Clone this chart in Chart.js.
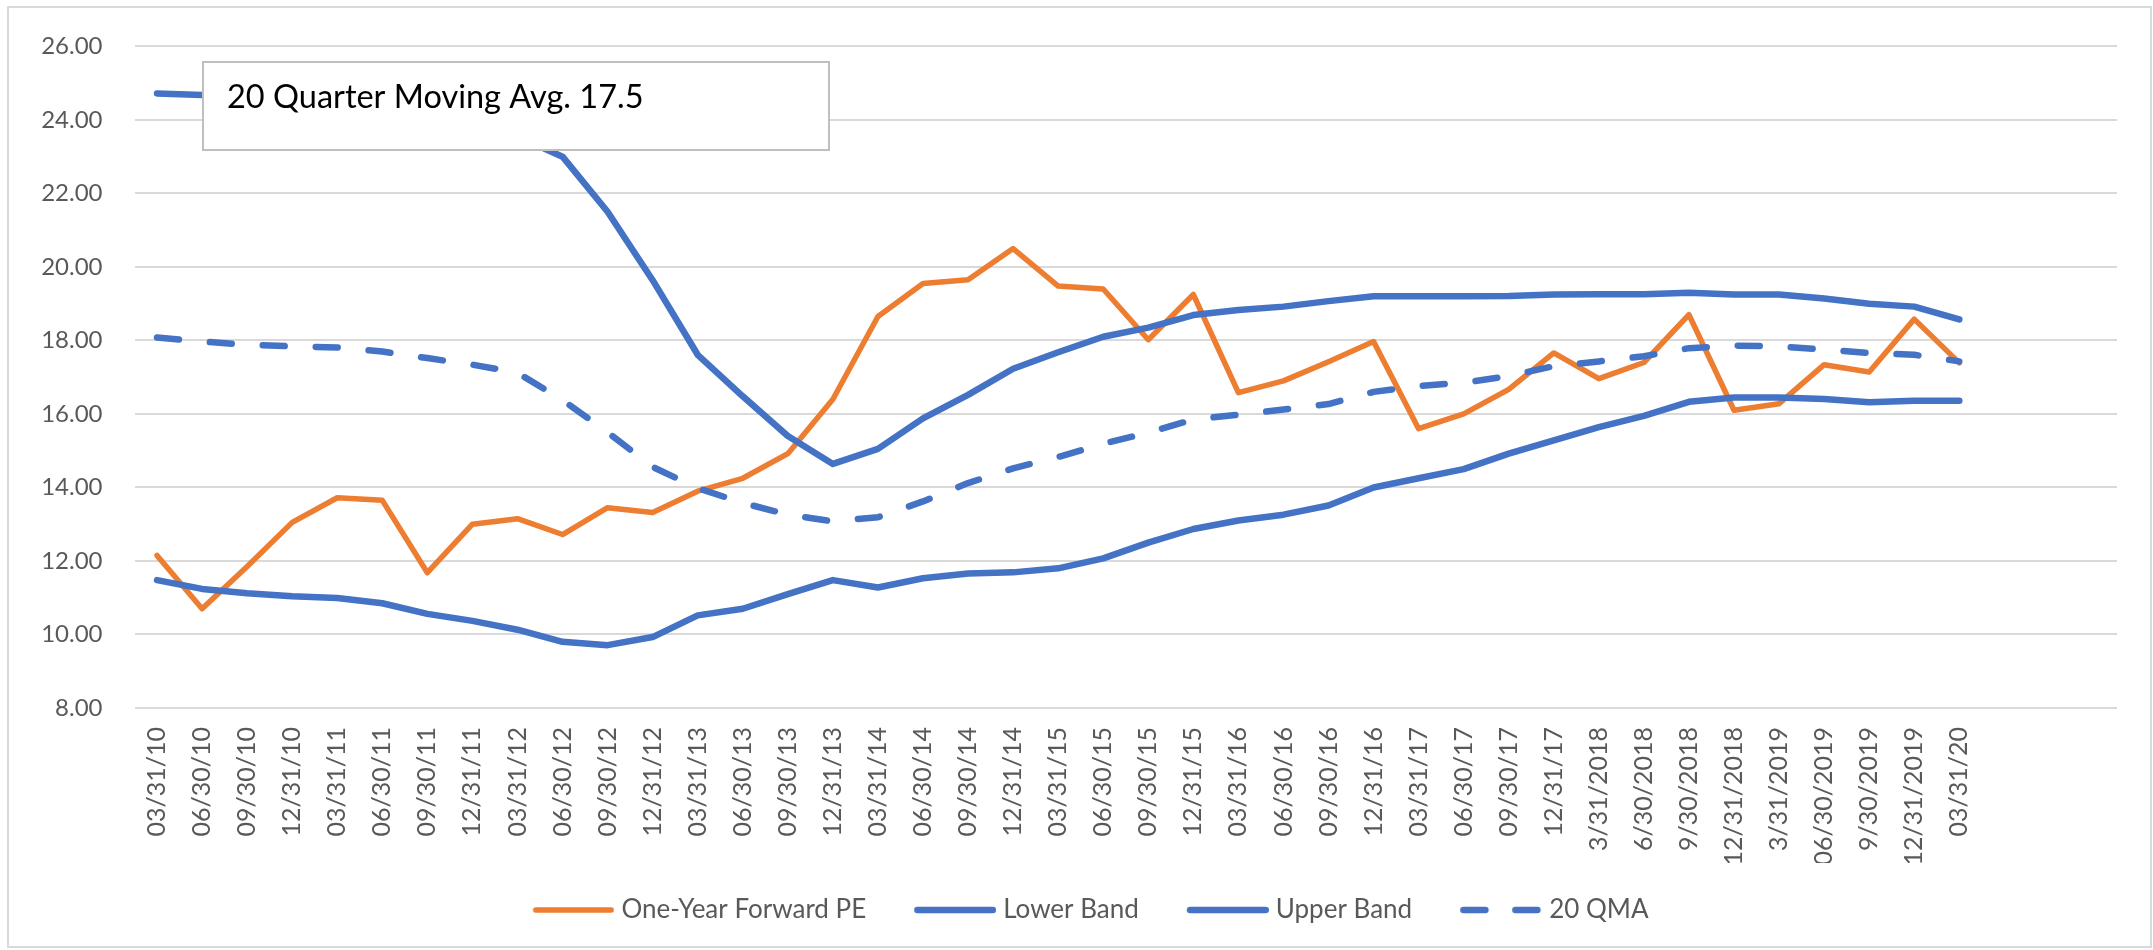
<!DOCTYPE html>
<html>
<head>
<meta charset="utf-8">
<script src="https://cdn.jsdelivr.net/npm/chart.js@4.4.1/dist/chart.umd.min.js"></script>
<style>
  html, body { margin: 0; padding: 0; background: #fff; }
  #wrap { width: 2153px; height: 950px; }
</style>
</head>
<body>
<div id="wrap"><canvas id="peChart" width="2153" height="950"></canvas></div>
<script>
// quarter-end dates (Excel range had 3 empty rows at the end)
const quarters = ['03/31/10','06/30/10','09/30/10','12/31/10','03/31/11','06/30/11','09/30/11','12/31/11',
  '03/31/12','06/30/12','09/30/12','12/31/12','03/31/13','06/30/13','09/30/13','12/31/13',
  '03/31/14','06/30/14','09/30/14','12/31/14','03/31/15','06/30/15','09/30/15','12/31/15',
  '03/31/16','06/30/16','09/30/16','12/31/16','03/31/17','06/30/17','09/30/17','12/31/17',
  '3/31/2018','6/30/2018','9/30/2018','12/31/2018','3/31/2019','06/30/2019','9/30/2019','12/31/2019',
  '03/31/20','','',''];

const forwardPE = [12.15, 10.70, 11.85, 13.05, 13.72, 13.65, 11.68, 13.00, 13.15, 12.72, 13.45, 13.32,
  13.90, 14.25, 14.92, 16.40, 18.65, 19.55, 19.65, 20.50, 19.48, 19.40, 18.02, 19.25,
  16.58, 16.90, 17.42, 17.97, 15.60, 16.00, 16.67, 17.66, 16.96, 17.40, 18.70, 16.10,
  16.28, 17.34, 17.14, 18.58, 17.39];

const lowerBand = [11.48, 11.24, 11.12, 11.04, 10.99, 10.85, 10.56, 10.37, 10.13, 9.80, 9.71, 9.93,
  10.52, 10.70, 11.10, 11.48, 11.28, 11.53, 11.66, 11.69, 11.80, 12.07, 12.50, 12.87,
  13.10, 13.26, 13.51, 14.00, 14.25, 14.50, 14.92, 15.28, 15.64, 15.95, 16.33, 16.45,
  16.45, 16.41, 16.32, 16.36, 16.36];

const upperBand = [24.72, 24.68, 24.62, 24.56, 24.50, 24.38, 24.20, 23.95, 23.55, 23.00, 21.50, 19.64,
  17.61, 16.48, 15.40, 14.64, 15.05, 15.88, 16.52, 17.23, 17.68, 18.10, 18.35, 18.69,
  18.83, 18.92, 19.07, 19.20, 19.20, 19.20, 19.21, 19.25, 19.26, 19.26, 19.30, 19.25,
  19.25, 19.14, 19.00, 18.92, 18.57];

const qma20 = [18.08, 17.97, 17.88, 17.84, 17.81, 17.70, 17.52, 17.34, 17.12, 16.38, 15.50, 14.56,
  13.98, 13.58, 13.26, 13.08, 13.19, 13.62, 14.12, 14.52, 14.83, 15.19, 15.49, 15.85,
  15.98, 16.12, 16.27, 16.60, 16.76, 16.85, 17.03, 17.30, 17.43, 17.57, 17.79, 17.86,
  17.84, 17.75, 17.66, 17.61, 17.43];

const yTicks = { min: 8, max: 26, step: 2 };
const noteText = '20 Quarter Moving Avg. 17.5';

const ORANGE = '#ED7D31';
const BLUE = '#4472C4';
const GREY_TXT = '#595959';
const FONT = 'Lato, "Noto Sans", sans-serif';
const DASH = [22, 31];

// little line pictures for the legend (chart.js drops the dash on point styles).
// transparent strip on the left widens the gap to the previous entry
function legendSwatch(color, width, dash) {
  const cv = document.createElement('canvas');
  cv.width = 102;
  cv.height = 12;
  const c = cv.getContext('2d');
  c.strokeStyle = color;
  c.lineWidth = width;
  c.lineCap = 'round';
  if (dash) c.setLineDash([22, 30]);
  c.beginPath();
  c.moveTo(23.25, 6);
  c.lineTo(98.75, 6);
  c.stroke();
  return cv;
}

// outer frame of the chart object
const framePlugin = {
  id: 'frame',
  beforeDraw(chart) {
    const c = chart.ctx;
    c.save();
    c.fillStyle = '#fff';
    c.fillRect(0, 0, chart.width, chart.height);
    c.strokeStyle = '#d9d9d9';
    c.lineWidth = 2;
    c.strokeRect(8, 7, chart.width - 10, chart.height - 10);
    c.restore();
  },
  afterLayout(chart) {
    // nudge legend so it sits centred like the excel one
    chart.legend.left += 6;
    chart.legend.right += 6;
  }
};

// the text box sitting over the top-left of the plot
const notePlugin = {
  id: 'note',
  afterDraw(chart) {
    const c = chart.ctx;
    c.save();
    c.fillStyle = '#fff';
    c.fillRect(203, 62, 626, 88);
    c.strokeStyle = '#bfbfbf';
    c.lineWidth = 2;
    c.strokeRect(203, 62, 626, 88);
    c.fillStyle = '#000';
    c.font = '32.5px ' + FONT;
    c.textBaseline = 'alphabetic';
    c.fillText(noteText, 227, 108);
    c.restore();
  }
};

function lineSet(label, data, color, width, order, dash) {
  return {
    label: label,
    data: data,
    borderColor: color,
    backgroundColor: color,
    borderWidth: width,
    borderDash: dash || [],
    borderCapStyle: 'round',
    borderJoinStyle: 'round',
    pointRadius: 0,
    pointStyle: legendSwatch(color, width, !!dash),
    tension: 0,
    fill: false,
    order: order
  };
}

const ctx = document.getElementById('peChart').getContext('2d');
new Chart(ctx, {
  type: 'line',
  data: {
    labels: quarters,
    datasets: [
      lineSet('One-Year Forward PE', forwardPE, ORANGE, 5.5, 4),
      lineSet('Lower Band', lowerBand, BLUE, 6.5, 3),
      lineSet('Upper Band', upperBand, BLUE, 6.5, 2),
      lineSet('20 QMA', qma20, BLUE, 6.5, 1, DASH)
    ]
  },
  options: {
    responsive: false,
    maintainAspectRatio: false,
    devicePixelRatio: 1,
    animation: false,
    layout: { padding: { left: 38, right: 36, top: 41, bottom: 17 } },
    scales: {
      x: {
        offset: true,
        grid: { display: false, drawTicks: false },
        border: { display: false },
        ticks: {
          autoSkip: false,
          minRotation: 90,
          maxRotation: 90,
          padding: 19,
          color: GREY_TXT,
          font: { family: FONT, size: 25 }
        },
        afterFit: s => { s.height = 155; }
      },
      y: {
        min: yTicks.min,
        max: yTicks.max,
        grid: { color: '#d9d9d9', lineWidth: 2, drawTicks: false },
        border: { display: false },
        ticks: {
          stepSize: yTicks.step,
          padding: 32,
          color: GREY_TXT,
          font: { family: FONT, size: 24 },
          callback: v => v.toFixed(2)
        },
        afterFit: s => { s.width = 96.5; }
      }
    },
    plugins: {
      tooltip: { enabled: false },
      legend: {
        position: 'bottom',
        labels: {
          usePointStyle: true,
          pointStyleWidth: 90,
          padding: 34,
          color: GREY_TXT,
          font: { family: FONT, size: 26 },
          sort: (a, b) => a.datasetIndex - b.datasetIndex
        }
      }
    }
  },
  plugins: [framePlugin, notePlugin]
});
</script>
</body>
</html>
